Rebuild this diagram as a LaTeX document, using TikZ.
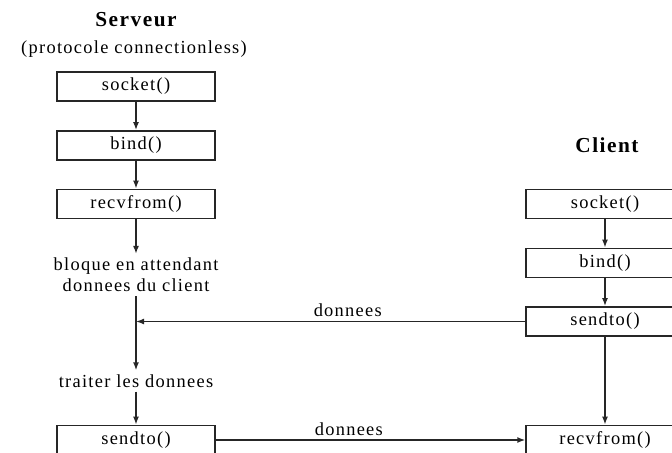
\documentclass[tikz,border=0pt]{standalone}
\usepackage{fontspec}
\setmainfont{Liberation Serif}[LetterSpace=7]
\usetikzlibrary{arrows.meta}

\begin{document}
\begin{tikzpicture}[x=0.75pt,y=-0.75pt,font=\fontsize{13.8}{15.5}\selectfont,
          fnbox/.style={draw=black!85, line width=1.1pt, minimum width=118.5pt, minimum height=22pt, inner sep=0pt},
          lbl/.style={inner sep=3pt, align=center},
          title/.style={font=\fontsize{16}{18}\selectfont\bfseries},
          flow/.style={draw=black!85, line width=1.1pt, -{Latex[length=6pt,width=4.5pt]}}]
        \useasboundingbox (0,0) rectangle (672,453);
        % serveur
        \node[title] (srvtitle) at (136,20) {Serveur};
        \node[lbl] (proto) at (134,49) {(protocole connectionless)};
        \node[fnbox] (ssocket) at (136,86.5) {socket()};
        \node[fnbox] (sbind) at (136,145.5) {bind()};
        \node[fnbox] (srecv) at (136,204) {recvfrom()};
        \node[lbl] (wait) at (136,275) {bloque en attendant\\donnees du client};
        \node[lbl] (treat) at (136,381) {traiter les donnees};
        \node[fnbox] (ssend) at (136,440) {sendto()};
        % client
        \node[title] (clititle) at (607,145) {Client};
        \foreach \nm/\txt/\ypos in {csocket/socket()/204, cbind/bind()/263, csend/sendto()/321.5, crecv/recvfrom()/440} {
          \node[fnbox] (\nm) at (605,\ypos) {\txt};
        }
        % fleches
        \draw[flow] (ssocket) -- (sbind);
        \draw[flow] (sbind) -- (srecv);
        \draw[flow] (srecv) -- (wait);
        \draw[flow] (wait) -- (treat);
        \draw[flow] (treat) -- (ssend);
        \draw[flow] (csocket) -- (cbind);
        \draw[flow] (cbind) -- (csend);
        \draw[flow] (csend) -- (crecv);
        \draw[flow] (csend.west) -- node[lbl, above, pos=0.456] {donnees} (csend.west -| wait.south);
        \draw[flow] (ssend) -- node[lbl, above, pos=0.43] {donnees} (crecv);
      \end{tikzpicture}
\end{document}
